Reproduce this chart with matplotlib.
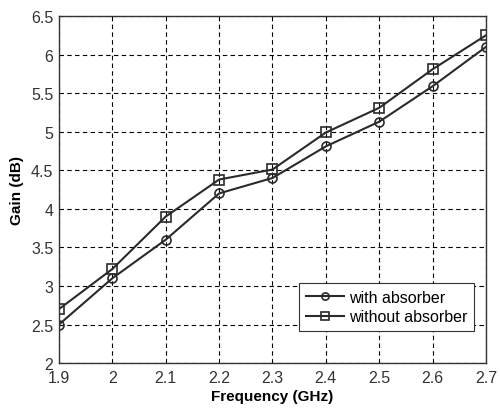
import matplotlib
matplotlib.use('Agg')
import matplotlib.pyplot as plt

plt.rcParams['font.family'] = ['Liberation Sans', 'DejaVu Sans']

# 데이터
freq = [1.9, 2.0, 2.1, 2.2, 2.3, 2.4, 2.5, 2.6, 2.7]
gain_with = [2.5, 3.1, 3.6, 4.2, 4.4, 4.81, 5.13, 5.59, 6.1]
gain_without = [2.7, 3.22, 3.9, 4.38, 4.51, 4.99, 5.31, 5.81, 6.25]
xticks = [1.9, 2, 2.1, 2.2, 2.3, 2.4, 2.5, 2.6, 2.7]
xlabels = ['1.9', '2', '2.1', '2.2', '2.3', '2.4', '2.5', '2.6', '2.7']
yticks = [2, 2.5, 3, 3.5, 4, 4.5, 5, 5.5, 6, 6.5]
ylabels = ['2', '2.5', '3', '3.5', '4', '4.5', '5', '5.5', '6', '6.5']

fig = plt.figure(figsize=(5, 4.1), dpi=100)
ax = fig.add_axes([0.118, 0.112, 0.854, 0.8465])

c = '#2a2a2a'
ax.plot(freq, gain_with, '-o', color=c, lw=1.5, ms=6.5, mfc='none', mew=1.2, label='with absorber')
ax.plot(freq, gain_without, '-s', color=c, lw=1.5, ms=6.5, mfc='none', mew=1.2, label='without absorber')

ax.set_xlim(1.9, 2.7)
ax.set_ylim(2, 6.5)
ax.set_xticks(xticks)
ax.set_xticklabels(xlabels)
ax.set_yticks(yticks)
ax.set_yticklabels(ylabels)
ax.tick_params(labelsize=11.5, labelcolor='#333333', direction='in', length=0)
ax.tick_params(axis='x', pad=5)
ax.tick_params(axis='y', pad=4)
ax.grid(True, color='black', linestyle=(0, (4, 3)), lw=0.8)
for s in ax.spines.values():
    s.set_color('#333333')
    s.set_linewidth(1.0)

ax.set_xlabel('Frequency (GHz)', fontsize=11, fontweight='bold', labelpad=3)
ax.set_ylabel('Gain (dB)', fontsize=11, fontweight='bold', labelpad=5)

leg = ax.legend(loc='lower right', bbox_to_anchor=(0.99, 0.07), fontsize=11.5, frameon=True,
                fancybox=False, edgecolor='#333333', framealpha=1, handlelength=2.4,
                borderpad=0.4, labelspacing=0.3, handletextpad=0.3, markerscale=0.8)
leg.get_frame().set_linewidth(0.8)

fig.savefig('out.png', dpi=100)
